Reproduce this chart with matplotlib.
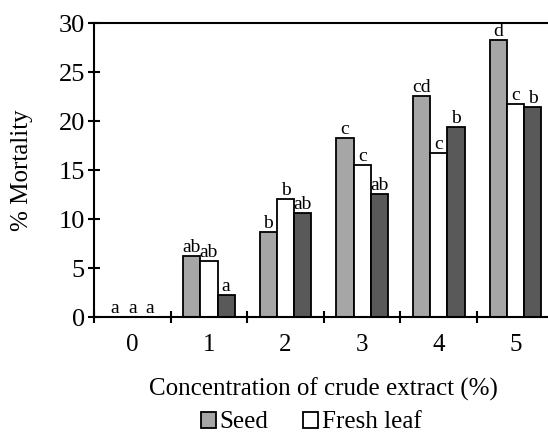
import numpy as np
import matplotlib.pyplot as plt

plt.rcParams['font.family'] = ['Liberation Serif', 'DejaVu Serif']

# Data
concentrations = ['0', '1', '2', '3', '4', '5']
seed = [0, 6.2, 8.7, 18.3, 22.6, 28.3]
fresh_leaf = [0, 5.75, 12.1, 15.5, 16.7, 21.7]
third = [0, 2.3, 10.6, 12.6, 19.4, 21.4]
seed_letters = ['a', 'ab', 'b', 'c', 'cd', 'd']
fresh_letters = ['a', 'ab', 'b', 'c', 'c', 'c']
third_letters = ['a', 'a', 'ab', 'ab', 'b', 'b']

fig = plt.figure(figsize=(5.48, 4.32), dpi=100)
ax = fig.add_axes([0.1715, 0.266, 0.839, 0.6806])

x = np.arange(len(concentrations))
w = 0.225
series = [(seed, '#a6a6a6', seed_letters, -w),
          (fresh_leaf, '#ffffff', fresh_letters, 0),
          (third, '#595959', third_letters, w)]
bars = []
for vals, col, letters, off in series:
    b = ax.bar(x + off, vals, width=w, color=col, edgecolor='black', linewidth=1.3)
    bars.append(b)
    for xi, v, t in zip(x + off, vals, letters):
        ax.annotate(t, xy=(xi, v), xytext=(0, 0), textcoords='offset points',
                    ha='center', va='bottom', fontsize=14)

ax.set_xlim(-0.5, 5.5)
ax.set_ylim(0, 30)
ax.set_yticks(range(0, 31, 5))
ax.set_xticks(x)
ax.set_xticklabels(concentrations)
ax.set_xticks(np.arange(-0.5, 5.6, 1), minor=True)
ax.tick_params(axis='x', which='major', length=0, labelsize=18, pad=12)
ax.tick_params(axis='x', which='minor', direction='inout', length=9, width=1.5)
ax.tick_params(axis='y', direction='inout', length=9, width=1.5, labelsize=19, pad=2)
for s in ['left', 'bottom', 'top']:
    ax.spines[s].set_linewidth(1.5)
ax.spines['right'].set_visible(False)

ax.set_ylabel('% Mortality', fontsize=18)
ax.yaxis.set_label_coords(-0.133, 0.5)
ax.set_xlabel('Concentration of crude extract (%)', fontsize=18, labelpad=16)

fig.legend(bars[:2], ['Seed', 'Fresh leaf'], loc='center', bbox_to_anchor=(0.568, 0.022),
           ncol=2, frameon=False, fontsize=18, handlelength=0.6, handleheight=0.6,
           handletextpad=0.15, columnspacing=1.4)

fig.savefig('out.png', dpi=100)
